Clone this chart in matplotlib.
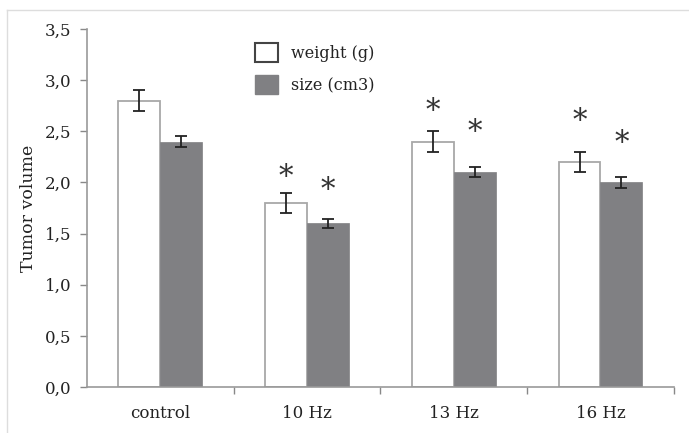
import matplotlib
matplotlib.use("Agg")
import matplotlib.pyplot as plt
import numpy as np
from matplotlib.patches import Patch
from matplotlib.lines import Line2D

plt.rcParams['font.family'] = ['DejaVu Serif']

groups = ["control", "10 Hz", "13 Hz", "16 Hz"]
weight = [2.8, 1.8, 2.4, 2.2]
weight_err = [0.1, 0.1, 0.1, 0.1]
size = [2.4, 1.6, 2.1, 2.0]
size_err = [0.05, 0.045, 0.05, 0.055]
# height of the significance stars (None = no star)
weight_star = [None, 2.05, 2.70, 2.60]
size_star = [None, 1.93, 2.49, 2.39]

fig = plt.figure(figsize=(6.89, 4.33), dpi=100)
ax = fig.add_axes([0.1263, 0.1062, 0.8517, 0.8268])

x = np.arange(len(groups))
w = 0.286
ax.bar(x - w / 2, weight, w, color='white', edgecolor='#a8a8a8', linewidth=1.3, zorder=2)
ax.bar(x + w / 2, size, w, color='#808083', edgecolor='#808083', linewidth=0.5, zorder=2)
ax.errorbar(x - w / 2, weight, yerr=weight_err, fmt='none', ecolor='#222222',
            elinewidth=1.3, capsize=4, capthick=1.3, zorder=3)
ax.errorbar(x + w / 2, size, yerr=size_err, fmt='none', ecolor='#222222',
            elinewidth=1.3, capsize=4, capthick=1.3, zorder=3)

for i in range(len(groups)):
    if weight_star[i] is not None:
        ax.text(x[i] - w / 2, weight_star[i], '*', ha='center', va='center',
                fontsize=21, color='#333333')
    if size_star[i] is not None:
        ax.text(x[i] + w / 2, size_star[i], '*', ha='center', va='center',
                fontsize=21, color='#333333')

ax.set_xlim(-0.5, 3.5)
ax.set_ylim(0, 3.5)
yt = np.arange(0, 3.51, 0.5)
ax.set_yticks(yt)
ax.set_yticklabels([f"{v:.1f}".replace('.', ',') for v in yt], fontsize=12, color='#222222')
ax.set_xticks(x)
ax.set_xticklabels(groups, fontsize=12, color='#222222')
ax.set_xticks(np.arange(0.5, 3.6, 1), minor=True)
ax.tick_params(axis='x', which='major', length=0, pad=13)
ax.tick_params(axis='x', which='minor', length=5, color='#888888', width=1)
ax.tick_params(axis='y', length=5, color='#888888', width=1, pad=6)
ax.set_ylabel('Tumor volume', fontsize=12.5, labelpad=6, color='#222222')

for s in ['top', 'right']:
    ax.spines[s].set_visible(False)
for s in ['left', 'bottom']:
    ax.spines[s].set_color('#999999')
    ax.spines[s].set_linewidth(1.2)

handles = [Patch(facecolor='white', edgecolor='#444444', linewidth=1.5),
           Patch(facecolor='#808083', edgecolor='#808083')]
ax.legend(handles, ['weight (g)', 'size (cm3)'], loc='upper left',
          bbox_to_anchor=(0.276, 0.978), frameon=False, fontsize=11.5,
          handlelength=1.4, handleheight=1.4, labelspacing=0.85,
          handletextpad=0.8, borderaxespad=0, labelcolor='#222222')

# faint frame lines of the original figure
fig.add_artist(Line2D([7 / 689, 7 / 689], [0, 1 - 10 / 433], color='#dddddd', lw=1))
fig.add_artist(Line2D([7 / 689, 1], [1 - 10 / 433, 1 - 10 / 433], color='#dddddd', lw=1))

fig.savefig('out.png', dpi=100)
